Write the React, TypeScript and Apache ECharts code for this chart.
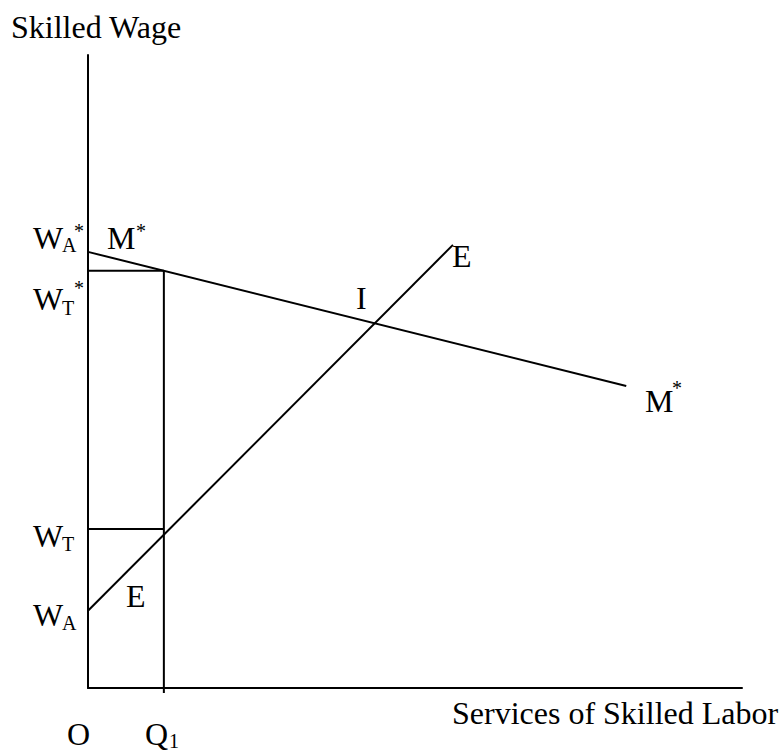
import React, { useEffect, useRef } from "react";
import * as echarts from "echarts";

// ---- data (diagram units) ----
const xRange = [0, 10];
const yRange = [0, 10];
const mStarCurve = [[0, 6.89], [8.23, 4.77]];
const eCurve = [[0, 1.22], [5.58, 7.0]];
const q1 = 1.16;
const wTStar = 6.59;
const wT = 2.51;
const q1Line = [[q1, -0.08], [q1, wTStar]];
const wTStarLine = [[0, wTStar], [q1, wTStar]];
const wTLine = [[0, wT], [q1, wT]];

const axisTitles = ["Skilled Wage", "Services of Skilled Labor"];
const pointLabels = ["O", "Q", "1", "W", "A", "*", "M", "T", "E", "I"];

const FONT = '"Liberation Serif", "Times New Roman", serif';
const BIG = 32;
const SMALL = 20;

function txt(text: string, x: number, baseline: number, size: number) {
  return {
    type: "text",
    x,
    y: baseline - 0.3375 * size,
    silent: true,
    style: {
      text,
      fontSize: size,
      fontFamily: FONT,
      fill: "#000",
      align: "left",
      verticalAlign: "middle",
    },
  };
}

export default function App() {
  const ref = useRef<HTMLDivElement>(null);
  useEffect(() => {
    if (!ref.current) return;
    const chart = echarts.init(ref.current, undefined, { renderer: "svg" });
    const lineStyle = { color: "#000", width: 2 };
    const seg = (data: number[][]) => ({
      type: "line",
      data,
      symbol: "none",
      clip: false,
      lineStyle,
      silent: true,
    });
    const [O, Q, one, W, A, star, M, T, E, I] = pointLabels;
    chart.setOption({
      animation: false,
      backgroundColor: "#fff",
      grid: { left: 88, right: 40, top: 55, bottom: 63 },
      xAxis: {
        type: "value",
        min: xRange[0],
        max: xRange[1],
        axisLine: { show: true, onZero: false, lineStyle: { color: "#000", width: 2 } },
        axisTick: { show: false },
        axisLabel: { show: false },
        splitLine: { show: false },
      },
      yAxis: {
        type: "value",
        min: yRange[0],
        max: yRange[1],
        axisLine: { show: true, onZero: false, lineStyle: { color: "#000", width: 2 } },
        axisTick: { show: false },
        axisLabel: { show: false },
        splitLine: { show: false },
      },
      series: [seg(mStarCurve), seg(eCurve), seg(q1Line), seg(wTStarLine), seg(wTLine)],
      graphic: [
        txt(axisTitles[0], 11, 38, BIG),
        txt(axisTitles[1], 452, 724, BIG),
        txt(O, 67, 745, BIG),
        txt(Q, 145, 745, BIG),
        txt(one, 169, 748, SMALL),
        // W_A*
        txt(W, 33, 249, BIG),
        txt(A, 62, 252, SMALL),
        txt(star, 74, 238, SMALL),
        // M* (top)
        txt(M, 107, 249, BIG),
        txt(star, 136, 238, SMALL),
        // W_T*
        txt(W, 33, 310, BIG),
        txt(T, 62, 315, SMALL),
        txt(star, 74, 295, SMALL),
        // W_T
        txt(W, 33, 547, BIG),
        txt(T, 62, 551, SMALL),
        // W_A
        txt(W, 33, 626, BIG),
        txt(A, 62, 630, SMALL),
        // E lower
        txt(E, 126, 607, BIG),
        // I
        txt(I, 356, 309, BIG),
        // E upper
        txt(E, 452, 267, BIG),
        // M* right
        txt(M, 645, 412, BIG),
        txt(star, 672, 395, SMALL),
      ],
    });
    return () => chart.dispose();
  }, []);
  return (
    <div
      ref={ref}
      style={{ position: "fixed", left: 0, top: 0, width: 782, height: 751, background: "#fff" }}
    />
  );
}
